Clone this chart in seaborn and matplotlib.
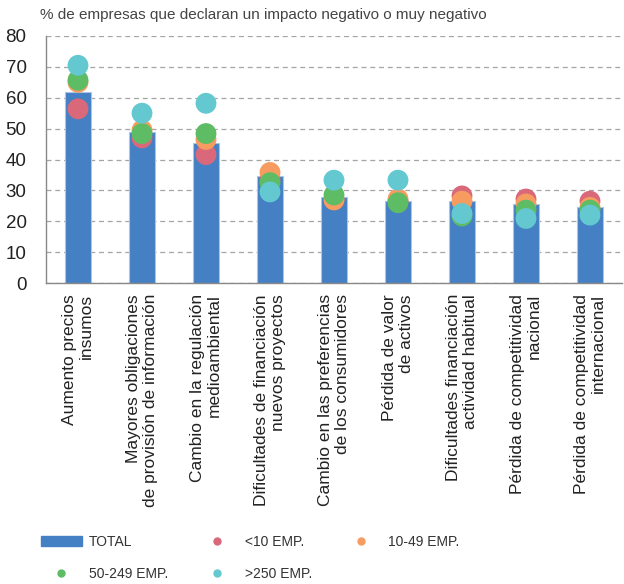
import matplotlib.pyplot as plt
import seaborn as sns
import pandas as pd
from matplotlib.patches import Patch
from matplotlib.lines import Line2D

categorias = [
    "Aumento precios\ninsumos",
    "Mayores obligaciones\nde provisión de información",
    "Cambio en la regulación\nmedioambiental",
    "Dificultades de financiación\nnuevos proyectos",
    "Cambio en las preferencias\nde los consumidores",
    "Pérdida de valor\nde activos",
    "Dificultades financiación\nactividad habitual",
    "Pérdida de competitividad\nnacional",
    "Pérdida de competitividad\ninternacional",
]
total = [62.0, 48.9, 45.5, 34.5, 27.9, 26.6, 26.4, 25.6, 24.7]
emp_lt10 = [56.4, 47.0, 41.6, 33.5, 27.0, 26.5, 28.2, 27.2, 26.5]
emp_10_49 = [65.0, 49.5, 46.5, 35.8, 26.9, 27.2, 26.5, 25.6, 24.5]
emp_50_249 = [65.7, 48.4, 48.4, 32.5, 28.5, 26.0, 21.7, 23.6, 23.6]
emp_gt250 = [70.5, 55.0, 58.2, 29.5, 33.3, 33.3, 22.5, 20.9, 22.0]

series = ["<10 EMP.", "10-49 EMP.", "50-249 EMP.", ">250 EMP."]
colores = ["#D9697A", "#F79C60", "#5EBC64", "#63C8D0"]
color_barra = "#4480C3"

sns.set_style("white")
plt.rcParams['font.family'] = ['Liberation Sans', 'DejaVu Sans']

df_puntos = pd.DataFrame({
    "categoria": categorias * 4,
    "valor": emp_lt10 + emp_10_49 + emp_50_249 + emp_gt250,
    "serie": [s for s in series for _ in categorias],
})

fig = plt.figure(figsize=(6.24, 5.84), dpi=100)
ax = fig.add_axes([46 / 624, 1 - 283 / 584, 576 / 624, 247 / 584])

sns.barplot(x=categorias, y=total, color=color_barra, width=0.4,
            edgecolor="#A9C6E8", linewidth=0.8, saturation=1, ax=ax, zorder=2)
sns.stripplot(data=df_puntos, x="categoria", y="valor", hue="serie",
              hue_order=series, palette=colores, jitter=False, size=15,
              linewidth=0, legend=False, ax=ax, zorder=3)

ax.set_xlim(-0.5, 8.5)
ax.set_ylim(0, 80)
ax.set_yticks(range(0, 81, 10))
ax.yaxis.grid(True, linestyle=(0, (4, 3)), color="#A5A5A5", linewidth=0.9, zorder=0)
ax.set_axisbelow(True)
ax.set_xlabel("")
ax.set_ylabel("")
for s in ["top", "right"]:
    ax.spines[s].set_visible(False)
for s in ["left", "bottom"]:
    ax.spines[s].set_color("#888888")
    ax.spines[s].set_linewidth(1.0)

ax.set_xticks(range(len(categorias)))
ax.set_xticklabels(categorias, rotation=90, ha="center", va="top",
                   multialignment="right", fontsize=12.5, color="#222222")
ax.tick_params(axis="x", length=0, pad=8)
ax.set_xticks([i + 0.5 for i in range(len(categorias))], minor=True)
ax.tick_params(axis="x", which="minor", direction="in", length=6, color="#888888")
ax.tick_params(axis="y", length=0, labelsize=13.5, labelcolor="#222222", pad=14)

fig.text(40 / 624, 1 - 15 / 584, "% de empresas que declaran un impacto negativo o muy negativo",
         fontsize=11, color="#444444", va="center", ha="left")

# legend handles in column order so that the rows read like the reference
h_total = Patch(facecolor=color_barra, edgecolor=color_barra)
h_pts = [Line2D([], [], marker="o", linestyle="", markersize=6,
                markerfacecolor=c, markeredgewidth=0) for c in colores]
handles = [h_total, h_pts[2], h_pts[0], h_pts[3], h_pts[1]]
labels = ["TOTAL", series[2], series[0], series[3], series[1]]
fig.legend(handles, labels, loc="upper left", bbox_to_anchor=(28 / 624, 1 - 522 / 584),
           ncol=3, frameon=False, fontsize=10, handlelength=3.0, handleheight=0.75,
           handletextpad=0.5, columnspacing=2.0, labelspacing=1.35,
           labelcolor="#333333")

fig.savefig("out.png", dpi=100)
